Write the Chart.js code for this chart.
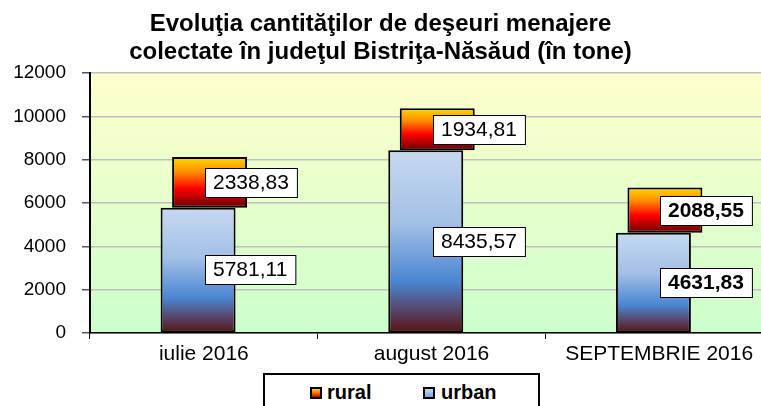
<!DOCTYPE html>
<html>
<head>
<meta charset="utf-8">
<script src="https://cdn.jsdelivr.net/npm/chart.js@4.4.1/dist/chart.umd.min.js"></script>
<style>
  html, body { margin: 0; padding: 0; background: #fff; }
  #wrap { position: relative; width: 761px; height: 406px; overflow: hidden; font-family: "Liberation Sans", Arial, sans-serif; }
  #chart { position: absolute; left: 0; top: 0; }
  #title { position: absolute; left: 0; top: 9px; width: 761px; text-align: center; font-weight: bold; font-size: 24px; line-height: 28px; color: #000; }
  #legend { position: absolute; left: 263px; top: 373px; width: 273px; height: 40px; border: 2px solid #000; background: #fff; }
  .sw { position: absolute; top: 12px; width: 8px; height: 8px; border: 2px solid #000; }
  .lt { position: absolute; top: 6px; font-weight: bold; font-size: 20px; line-height: 22px; }
</style>
</head>
<body>
<div id="wrap">
  <canvas id="chart" width="776" height="406"></canvas>
  <div id="title">Evoluţia cantităţilor de deşeuri menajere<br>colectate în judeţul Bistriţa-Năsăud (în tone)</div>
  <div id="legend">
    <div class="sw" style="left:45px;background:linear-gradient(#ffd700,#ff6000 55%,#c00000);"></div>
    <div class="lt" style="left:62px;">rural</div>
    <div class="sw" style="left:158px;background:linear-gradient(#c6d9f0,#7aa6dc);"></div>
    <div class="lt" style="left:176px;">urban</div>
  </div>
</div>
<script>
// Data
const months = ['iulie 2016', 'august 2016', 'SEPTEMBRIE 2016'];
const urban = [5781.11, 8435.57, 4631.83];
const rural = [2338.83, 1934.81, 2088.55];
const yTicks = [0, 2000, 4000, 6000, 8000, 10000, 12000];
const boldLabels = [false, false, true];

// rural sits on top of urban, drawn as a floating bar
const ruralRanges = urban.map((u, i) => [u, u + rural[i]]);

function fmt(v) {
    return v.toFixed(2).replace('.', ',');
}

function barGradient(ctx, from, to, stops) {
    const chart = ctx.chart;
    if (!chart.chartArea || ctx.type !== 'data') return stops[0][1];
    const y = chart.scales.y;
    const top = y.getPixelForValue(to);
    const bottom = y.getPixelForValue(from);
    const g = chart.ctx.createLinearGradient(0, top, 0, bottom);
    stops.forEach(s => g.addColorStop(s[0], s[1]));
    return g;
}

const urbanStops = [[0, '#c6d9f0'], [0.4, '#a3c0e6'], [0.72, '#4a86d2'], [0.86, '#574a72'], [1, '#5a1212']];
const ruralStops = [[0, '#ffd800'], [0.3, '#ff8c00'], [0.62, '#ff0000'], [1, '#680000']];

// plot area background (light yellow to light green)
const plotBackground = {
    id: 'plotBackground',
    beforeDraw(chart) {
        const { ctx, chartArea: a } = chart;
        const g = ctx.createLinearGradient(0, a.top, 0, a.bottom);
        g.addColorStop(0, '#ffffcc');
        g.addColorStop(1, '#ccffcc');
        ctx.save();
        ctx.fillStyle = g;
        ctx.fillRect(a.left, a.top, a.right - a.left, a.bottom - a.top);
        ctx.restore();
    }
};

// value labels in white boxes
const valueBoxes = {
    id: 'valueBoxes',
    afterDatasetsDraw(chart) {
        const { ctx } = chart;
        const x = chart.scales.x;
        const series = [urban, rural];
        ctx.save();
        [0, 1].forEach(di => {
            const meta = chart.getDatasetMeta(di);
            meta.data.forEach((bar, i) => {
                const text = fmt(series[di][i]);
                ctx.font = (boldLabels[i] ? 'bold ' : '') + '21px "Liberation Sans", Arial, sans-serif';
                const w = ctx.measureText(text).width + 16;
                const h = 29;
                const left = Math.round(x.getPixelForValue(i)) + 1;
                const cy = (bar.y + bar.base) / 2;
                const top = Math.round(cy - h / 2);
                ctx.fillStyle = '#fff';
                ctx.fillRect(left, top, w, h);
                ctx.strokeStyle = '#000';
                ctx.lineWidth = 1;
                ctx.strokeRect(left + 0.5, top + 0.5, w, h);
                ctx.fillStyle = '#000';
                ctx.textAlign = 'center';
                ctx.textBaseline = 'middle';
                ctx.fillText(text, left + w / 2, top + h / 2 + 1);
            });
        });
        ctx.restore();
    }
};

new Chart(document.getElementById('chart'), {
    type: 'bar',
    data: {
        labels: months,
        datasets: [{
            label: 'urban',
            data: urban,
            backgroundColor: ctx => barGradient(ctx, 0, urban[ctx.dataIndex], urbanStops),
            borderColor: '#000',
            borderWidth: 2,
            borderSkipped: false,
            categoryPercentage: 0.101,
            barPercentage: 6.52
        }, {
            label: 'rural',
            data: ruralRanges,
            backgroundColor: ctx => barGradient(ctx, ruralRanges[ctx.dataIndex][0], ruralRanges[ctx.dataIndex][1], ruralStops),
            borderColor: '#000',
            borderWidth: 2,
            borderSkipped: false,
            categoryPercentage: 0.101,
            barPercentage: 6.52
        }]
    },
    options: {
        responsive: false,
        animation: false,
        devicePixelRatio: 1,
        layout: { padding: { top: 73, right: 3, left: 0, bottom: 0 } },
        plugins: {
            legend: { display: false },
            tooltip: { enabled: false },
            title: { display: false }
        },
        scales: {
            x: {
                afterFit(scale) { scale.height = 73; },
                grid: {
                    offset: true,
                    drawOnChartArea: false,
                    drawTicks: true,
                    tickLength: 6,
                    tickColor: '#000'
                },
                border: { color: '#000', width: 1.5 },
                ticks: {
                    color: '#000',
                    padding: 3,
                    maxRotation: 0,
                    font: { family: '"Liberation Sans", Arial, sans-serif', size: 21 }
                }
            },
            y: {
                min: 0,
                max: 12000,
                afterFit(scale) { scale.width = 90; },
                afterBuildTicks(scale) { scale.ticks = yTicks.map(v => ({ value: v })); },
                grid: {
                    color: '#c0c0c0',
                    lineWidth: 1.5,
                    tickLength: 8,
                    tickColor: '#555'
                },
                border: { color: '#000', width: 2 },
                ticks: {
                    color: '#000',
                    padding: 16,
                    callback: v => String(v),
                    font: { family: '"Liberation Sans", Arial, sans-serif', size: 19 }
                }
            }
        }
    },
    plugins: [plotBackground, valueBoxes]
});
</script>
</body>
</html>
